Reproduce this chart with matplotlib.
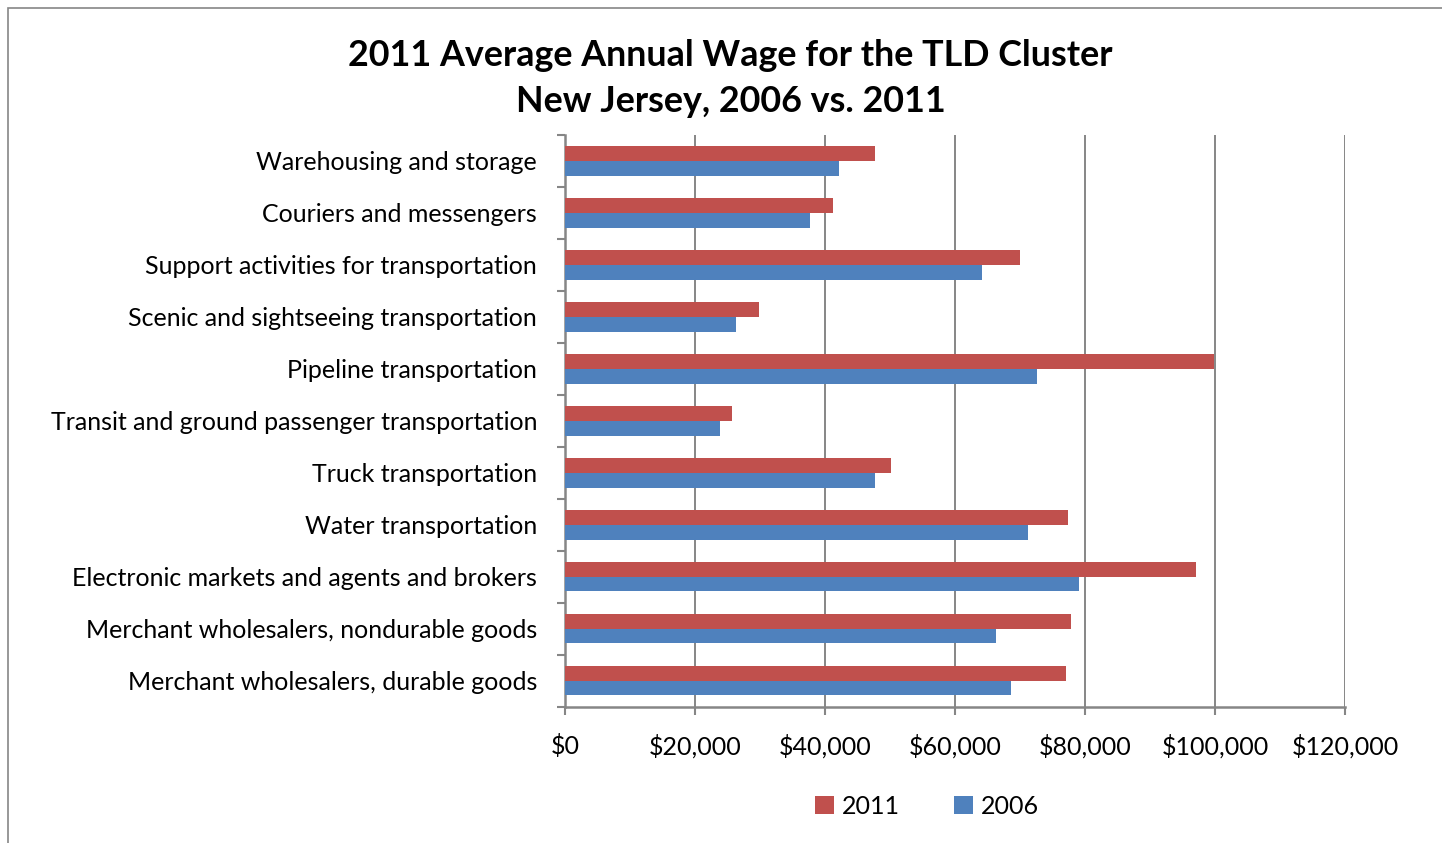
import matplotlib
matplotlib.use("Agg")
import matplotlib.pyplot as plt
import numpy as np
from matplotlib.patches import Rectangle, Patch
from matplotlib.ticker import FuncFormatter, MultipleLocator

plt.rcParams['font.family'] = ['Lato', 'DejaVu Sans']

categories = [
    "Warehousing and storage",
    "Couriers and messengers",
    "Support activities for transportation",
    "Scenic and sightseeing transportation",
    "Pipeline transportation",
    "Transit and ground passenger transportation",
    "Truck transportation",
    "Water transportation",
    "Electronic markets and agents and brokers",
    "Merchant wholesalers, nondurable goods",
    "Merchant wholesalers, durable goods",
]
wage_2011 = [47700, 41200, 70000, 29900, 99900, 25700, 50100, 77400, 97000, 77800, 77100]
wage_2006 = [42200, 37700, 64100, 26300, 72600, 23900, 47700, 71300, 79100, 66300, 68600]
series_names = ["2011", "2006"]
title_lines = ["2011 Average Annual Wage for the TLD Cluster", "New Jersey, 2006 vs. 2011"]

RED = "#C0504D"
BLUE = "#4F81BD"
GRAY = "#868686"

W, H = 1442, 843
fig = plt.figure(figsize=(W / 100, H / 100), dpi=100)
ax = fig.add_axes([565 / W, 1 - 706.7 / H, (1345 - 565) / W, (706.7 - 135) / H])

n = len(categories)
y = np.arange(n)
bh = 0.283
ax.barh(y - bh / 2, wage_2011, height=bh, color=RED, zorder=3)
ax.barh(y + bh / 2, wage_2006, height=bh, color=BLUE, zorder=3)

ax.set_ylim(n - 0.5, -0.5)
ax.set_xlim(0, 120000)

LBL = 18
ax.set_yticks(y)
ax.set_yticklabels(categories, fontsize=LBL)
for t in ax.get_yticklabels():
    t.set_y(t.get_position()[1])
ax.set_yticks(np.arange(n + 1) - 0.5, minor=True)
ax.tick_params(axis='y', which='major', length=0, pad=20)
ax.tick_params(axis='y', which='minor', length=5.5, width=1.5, color=GRAY, direction='out')

ax.xaxis.set_major_locator(MultipleLocator(20000))
ax.xaxis.set_major_formatter(FuncFormatter(lambda v, p: "${:,.0f}".format(v)))
ax.tick_params(axis='x', which='major', length=6, width=1.5, color=GRAY, direction='out', labelsize=18, pad=14)

ax.grid(axis='x', color=GRAY, linewidth=1.4, zorder=0)
for s in ['top', 'right']:
    ax.spines[s].set_visible(False)
for s in ['left', 'bottom']:
    ax.spines[s].set_color(GRAY)
    ax.spines[s].set_linewidth(1.8)

fig.text(730 / W, 1 - 55 / H, title_lines[0], ha='center', va='center', fontsize=25.8, fontweight='bold')
fig.text(731 / W, 1 - 102 / H, title_lines[1], ha='center', va='center', fontsize=25.8, fontweight='bold')

handles = [Patch(facecolor=RED, label=series_names[0]), Patch(facecolor=BLUE, label=series_names[1])]
fig.legend(handles=handles, loc='center', bbox_to_anchor=(927 / W, 1 - 806 / H), ncol=2,
           frameon=False, fontsize=18, handlelength=0.75, handleheight=0.75,
           handletextpad=0.3, columnspacing=2.2)

fig.patches.append(Rectangle((8 / W, -0.1), 1.2, 1.1 - 8 / H, transform=fig.transFigure,
                             fill=False, edgecolor=GRAY, linewidth=1.2))

fig.savefig("out.png", dpi=100)
